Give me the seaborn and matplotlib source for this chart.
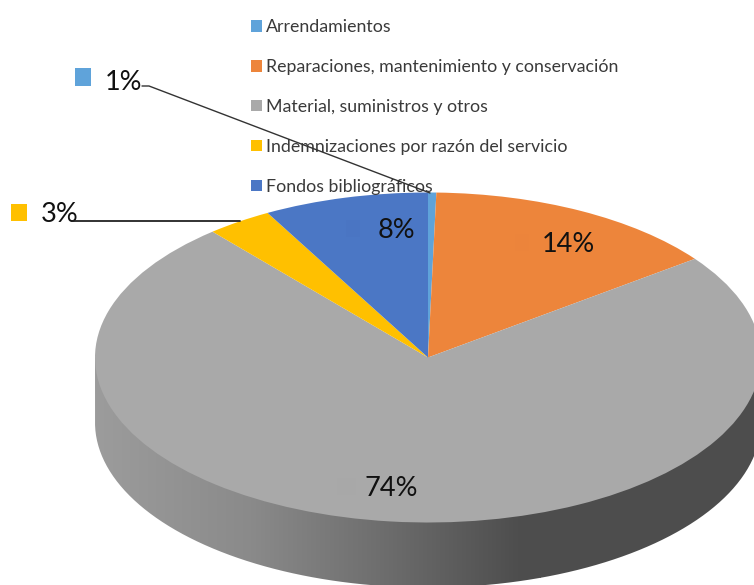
import matplotlib
matplotlib.use('Agg')
import matplotlib.pyplot as plt
from matplotlib.colors import LinearSegmentedColormap
from matplotlib.patches import PathPatch, Rectangle
from matplotlib.path import Path
import numpy as np
import seaborn as sns

categories = ['Arrendamientos', 'Reparaciones, mantenimiento y conservación',
              'Material, suministros y otros', 'Indemnizaciones por razón del servicio',
              'Fondos bibliográficos']
values = [0.4, 14.4, 74.0, 3.2, 8.0]
value_labels = ['1%', '14%', '74%', '3%', '8%']
colors = ['#5FA3DA', '#ED853B', '#A9A9A9', '#FFC000', '#4B77C5']

# Tamanho da figura em pixels e geometria da elipse
W, H = 754, 585
cx, cy, rx, ry, depth = 428, 357.5, 333, 165, 65

sns.set_theme(style='white')
plt.rcParams['font.family'] = ['Lato', 'DejaVu Sans']

fig = plt.figure(figsize=(W / 100, H / 100), dpi=100, facecolor='white')
ax = fig.add_axes([0, 0, 1, 1])

wedges, _ = ax.pie(values, colors=sns.color_palette(colors), startangle=90, counterclock=False,
                   radius=1, wedgeprops={'linewidth': 0, 'zorder': 3})
ax.set_aspect('auto')

# Lateral do disco com gradiente
t = np.linspace(np.pi, 2 * np.pi, 200)
d = depth / ry
verts = np.vstack([[[-1, 0]], np.column_stack([np.cos(t), np.sin(t) - d]), [[1, 0]], [[-1, 0]]])
side = PathPatch(Path(verts), transform=ax.transData, facecolor='none', edgecolor='none')
ax.add_patch(side)
side_cmap = LinearSegmentedColormap.from_list('side', [(0, '#9C9C9C'), (0.35, '#8A8A8A'), (0.62, '#707070'),
                                                       (0.95, '#4E4E4E'), (1, '#4D4D4D')])
grad = ax.imshow(np.linspace(0, 1, 256).reshape(1, -1), cmap=side_cmap, aspect='auto', zorder=1,
                 extent=[-1, (540 - cx) / rx, -(H - cy) / ry, 0.2])
grad.set_clip_path(side)
# a direita do gradiente a cor fica constante
rest = ax.imshow(np.ones((1, 2)), cmap=side_cmap, vmin=0, vmax=1, aspect='auto', zorder=1,
                 extent=[(540 - cx) / rx, (W + 20 - cx) / rx, -(H - cy) / ry, 0.2])
rest.set_clip_path(side)
ax.set_xlim(-cx / rx, (W - cx) / rx)
ax.set_ylim(-(H - cy) / ry, cy / ry)
ax.axis('off')

# Camada em pixels para textos, chaves e linhas
over = fig.add_axes([0, 0, 1, 1], facecolor='none')
over.set_xlim(0, W)
over.set_ylim(H, 0)
over.axis('off')

leg = over.legend(wedges, categories, loc='upper left', bbox_to_anchor=(246 / W, 1 - 14 / H), frameon=False,
                  fontsize=12.8, labelcolor='#3A3A3A', handlelength=0.62, handleheight=0.62, handletextpad=0.2,
                  labelspacing=1.34, borderpad=0.3, borderaxespad=0)

over.plot([142, 149, 430], [86, 86, 193], color='#333333', lw=1, zorder=6)
over.plot([72, 240], [221, 221], color='#222222', lw=1.3, zorder=6)

over.add_patch(Rectangle((75, 68), 16, 18, color=colors[0], lw=0))
over.add_patch(Rectangle((11, 204), 16, 17, color=colors[3], lw=0))
over.add_patch(Rectangle((346, 220), 14, 17, color='#4A75C3', lw=0, zorder=4))
over.add_patch(Rectangle((515, 234), 14, 17, color='#EC843B', lw=0, zorder=4))
over.add_patch(Rectangle((337, 478), 19, 17, color='#A8A8A8', lw=0, zorder=4))

label_pos = {'1%': (124, 82), '14%': (568, 245), '74%': (391, 489), '3%': (60, 215), '8%': (396, 230)}
for lab in value_labels:
    over.text(*label_pos[lab], lab, fontsize=19.5, color='#111111', ha='center', va='center', zorder=5)

plt.savefig('out.png', dpi=100, facecolor='white')
